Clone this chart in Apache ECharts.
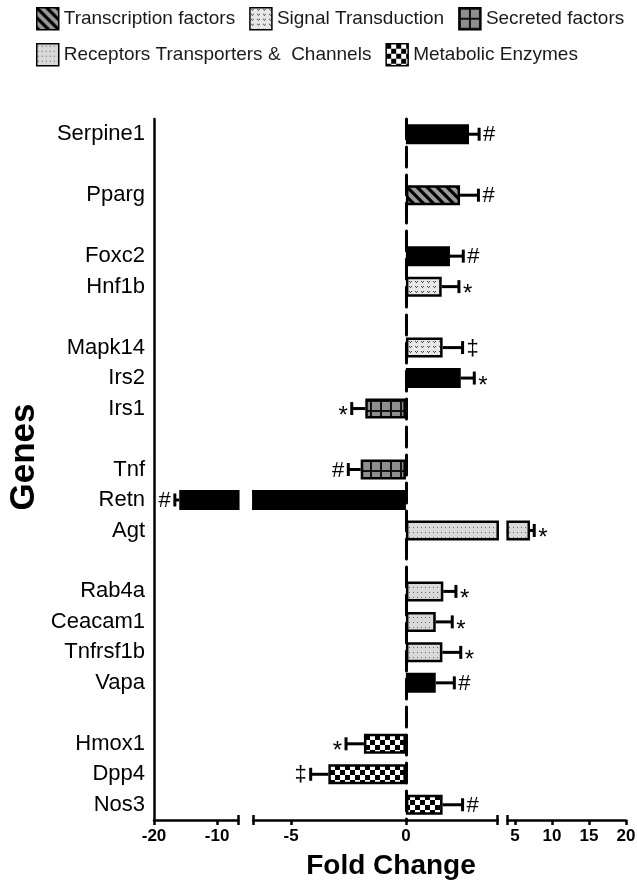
<!DOCTYPE html>
<html><head><meta charset="utf-8">
<script src="https://cdn.jsdelivr.net/npm/echarts@6/dist/echarts.min.js"></script>
<style>html,body{margin:0;padding:0;background:#fff}#c{width:637px;height:886px}</style>
</head><body><div id="c"></div>
<script>
// ---- data ----
const genes = ['Serpine1', null, 'Pparg', null, 'Foxc2', 'Hnf1b', null, 'Mapk14', 'Irs2', 'Irs1', null,
  'Tnf', 'Retn', 'Agt', null, 'Rab4a', 'Ceacam1', 'Tnfrsf1b', 'Vapa', null, 'Hmox1', 'Dpp4', 'Nos3'];
const geneGroup = ['Other', null, 'Transcription factors', null, 'Other', 'Signal Transduction', null,
  'Signal Transduction', 'Other', 'Secreted factors', null, 'Secreted factors', 'Other',
  'Receptors Transporters &  Channels', null, 'Receptors Transporters &  Channels',
  'Receptors Transporters &  Channels', 'Receptors Transporters &  Channels', 'Other', null,
  'Metabolic Enzymes', 'Metabolic Enzymes', 'Metabolic Enzymes'];
const foldChange = [2.75, null, 2.36, null, 1.92, 1.56, null, 1.6, 2.39, -1.77, null,
  -1.97, -16.0, 7.03, null, 1.63, 1.3, 1.59, 1.3, null, -1.83, -3.38, 1.6];
const errorEnd = [3.19, null, 3.16, null, 2.5, 2.31, null, 2.47, 2.98, -2.36, null,
  -2.51, -16.7, 7.6, null, 2.18, 2.02, 2.39, 2.11, null, -2.61, -4.15, 2.47];
const significance = ['#', null, '#', null, '#', '*', null, '\u2021', '*', '*', null,
  '#', '#', '*', null, '*', '*', '*', '#', null, '*', '\u2021', '#'];
const groupNames = ['Transcription factors', 'Signal Transduction', 'Secreted factors',
  'Receptors Transporters &  Channels', 'Metabolic Enzymes'];
const segmentRanges = [[-20, -6.65], [-6.65, 4], [4, 20]];
const tickLabels = [[-20, -10], [-5, 0], [5, 10, 15, 20]];

// ---- patterns ----
function tile(w, h, draw) {
  const c = document.createElement('canvas'); c.width = w; c.height = h;
  draw(c.getContext('2d'), w, h);
  return { image: c, repeat: 'repeat' };
}
const fills = {
  'Other': '#000',
  'Transcription factors': tile(10, 10, (x) => {
    x.fillStyle = '#9a9a9a'; x.fillRect(0, 0, 10, 10);
    x.strokeStyle = '#000'; x.lineWidth = 3.2; x.beginPath();
    x.moveTo(-5, -5); x.lineTo(15, 15); x.moveTo(-5, 5); x.lineTo(5, 15); x.moveTo(5, -5); x.lineTo(15, 5);
    x.stroke();
  }),
  'Signal Transduction': tile(6, 5, (x) => {
    x.fillStyle = '#e8e8e8'; x.fillRect(0, 0, 6, 5);
    x.fillStyle = '#444'; x.fillRect(1, 1, 1, 1); x.fillRect(3, 1, 1, 1); x.fillRect(2, 2, 1, 1);
  }),
  'Secreted factors': tile(10, 10, (x) => {
    x.fillStyle = '#8e8e8e'; x.fillRect(0, 0, 10, 10);
    x.fillStyle = '#111'; x.fillRect(0, 0, 10, 2); x.fillRect(0, 0, 2, 10);
  }),
  'Receptors Transporters &  Channels': tile(4, 5, (x) => {
    x.fillStyle = '#d9d9d9'; x.fillRect(0, 0, 4, 5);
    x.fillStyle = '#666'; x.fillRect(1, 2, 1, 1);
  }),
  'Metabolic Enzymes': tile(10, 10, (x) => {
    x.fillStyle = '#fff'; x.fillRect(0, 0, 10, 10);
    x.fillStyle = '#000'; x.fillRect(0, 0, 5, 5); x.fillRect(5, 5, 5, 5);
  })
};

const FONT = '"Liberation Sans", Arial, Helvetica, sans-serif';
const gridLefts = [154, 253.3, 507.6];
const gridWidths = [84.3, 244.4, 118.4];
const gridTop = 119, gridHeight = 701;
const allGroups = ['Other'].concat(groupNames);

const series = [];
segmentRanges.forEach(([lo, hi], g) => {
  allGroups.forEach((name) => {
    series.push({
      type: 'bar', name, xAxisIndex: g, yAxisIndex: g, barWidth: 20, barGap: '-100%',
      itemStyle: { color: fills[name], borderColor: '#000', borderWidth: 2.5 },
      data: foldChange.map((v, i) => (v !== null && geneGroup[i] === name &&
        Math.min(0, v) < hi && Math.max(0, v) > lo) ? v : '-')
    });
  });
  const errData = [];
  foldChange.forEach((v, i) => {
    if (v !== null && errorEnd[i] >= lo && errorEnd[i] <= hi) errData.push([v, i, errorEnd[i]]);
  });
  series.push({
    type: 'custom', xAxisIndex: g, yAxisIndex: g, clip: false, z: 3,
    encode: { x: [0, 2], y: 1 },
    data: errData,
    renderItem: (params, api) => {
      const v = api.value(0), idx = api.value(1), e = api.value(2);
      const start = Math.min(Math.max(v, lo), hi);
      const p0 = api.coord([start, idx]);
      const p1 = api.coord([e, idx]);
      const y = p0[1];
      const dir = e >= 0 ? 1 : -1;
      const sig = significance[idx];
      const isStar = sig === '*';
      const dy = isStar ? 8 : 1;
      const fs = isStar ? 24 : 22;
      return {
        type: 'group', children: [
          { type: 'line', shape: { x1: p0[0], y1: y, x2: p1[0], y2: y }, style: { stroke: '#000', lineWidth: 3 } },
          { type: 'line', shape: { x1: p1[0], y1: y - 6.5, x2: p1[0], y2: y + 6.5 }, style: { stroke: '#000', lineWidth: 3 } },
          { type: 'text', x: p1[0] + dir * 4, y: y + dy,
            style: { text: sig, font: fs + 'px ' + FONT, fill: '#000', align: dir > 0 ? 'left' : 'right', verticalAlign: 'middle' } }
        ]
      };
    }
  });
});

const mainX = segmentRanges.map(([lo, hi], g) => {
  const ticks = [lo].concat(tickLabels[g].filter(t => t !== lo && t !== hi), [hi]);
  return {
    gridIndex: g, type: 'value', min: lo, max: hi, position: 'bottom',
    axisLine: { show: true, onZero: false, lineStyle: { color: '#000', width: 2.5 } },
    axisTick: { show: true, customValues: ticks, length: 5, lineStyle: { color: '#000', width: 2.5 } },
    axisLabel: { show: true, customValues: tickLabels[g], fontSize: 17, fontWeight: 'bold', color: '#000', margin: 8, fontFamily: FONT },
    splitLine: { show: false }
  };
});
const capValues = [[segmentRanges[0][1]], [segmentRanges[1][0], segmentRanges[1][1]], [segmentRanges[2][0]]];
const capX = segmentRanges.map(([lo, hi], g) => ({
  gridIndex: g, type: 'value', min: lo, max: hi, position: 'top', offset: -gridHeight,
  axisLine: { show: false },
  axisTick: { show: true, customValues: capValues[g], length: 5, lineStyle: { color: '#000', width: 2.5 } },
  axisLabel: { show: false }, splitLine: { show: false }
}));

const yAxes = [0, 1, 2].map(g => ({
  gridIndex: g, type: 'category', inverse: true, data: genes.map(x => x || ''),
  axisTick: { show: false },
  axisLabel: g === 0 ? { show: true, interval: 0, fontSize: 22, color: '#000', margin: 9, fontFamily: FONT } : { show: false },
  axisLine: g === 0 ? { show: true, onZero: false, lineStyle: { color: '#000', width: 2.5 } }
    : g === 1 ? { show: true, onZero: true, lineStyle: { color: '#000', width: 3, type: [20, 8] } }
    : { show: false },
  splitLine: { show: false }
}));

const legendCommon = {
  icon: 'rect', itemWidth: 22, itemHeight: 22, itemGap: 14, padding: 0, left: 36,
  selectedMode: false, orient: 'horizontal',
  textStyle: { fontSize: 19, color: '#1a1a1a', fontFamily: FONT },
  itemStyle: { borderColor: '#000', borderWidth: 1.5 }
};

const chart = echarts.init(document.getElementById('c'));
chart.setOption({
  animation: false,
  backgroundColor: '#fff',
  textStyle: { fontFamily: FONT },
  legend: [
    Object.assign({}, legendCommon, { data: groupNames.slice(0, 3), top: 7 }),
    Object.assign({}, legendCommon, { data: groupNames.slice(3), top: 43 })
  ],
  grid: [0, 1, 2].map(g => ({ left: gridLefts[g], top: gridTop, width: gridWidths[g], height: gridHeight, containLabel: false, outerBoundsMode: 'none' })),
  xAxis: mainX.concat(capX),
  yAxis: yAxes,
  series,
  graphic: [
    { type: 'text', x: 24, y: 457, rotation: Math.PI / 2,
      style: { text: 'Genes', font: 'bold 35px ' + FONT, fill: '#000', align: 'center', verticalAlign: 'middle' } },
    { type: 'text', x: 391, y: 866,
      style: { text: 'Fold Change', font: 'bold 28px ' + FONT, fill: '#000', align: 'center', verticalAlign: 'middle' } }
  ]
});
</script></body></html>
